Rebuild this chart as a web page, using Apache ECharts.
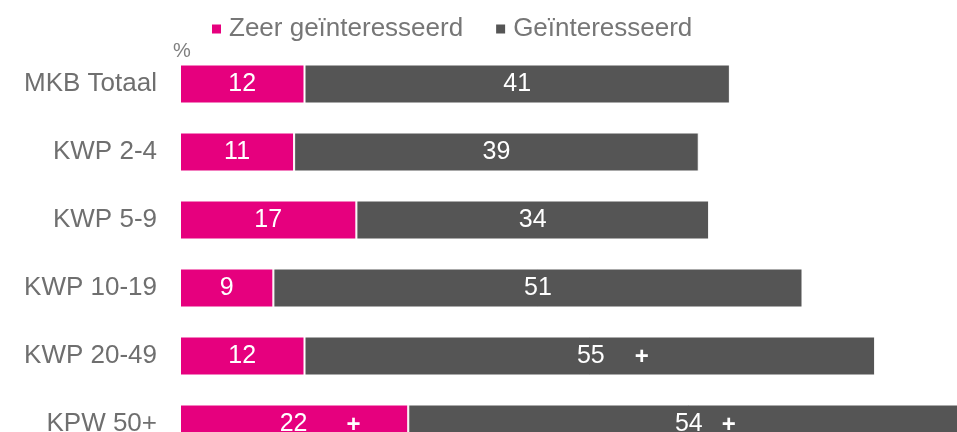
<!DOCTYPE html>
<html><head><meta charset="utf-8">
<script src="https://cdn.jsdelivr.net/npm/echarts@6/dist/echarts.min.js"></script>
<style>html,body{margin:0;padding:0;background:#fff;overflow:hidden;width:957px;height:432px}#c{width:1010px;height:458px}</style>
</head><body><div id="c"></div>
<script>
const categories = ['MKB Totaal','KWP 2-4','KWP 5-9','KWP 10-19','KWP 20-49','KPW 50+'];
const zeerValues = [12, 11, 17, 9, 12, 22];
const gintValues = [41, 39, 34, 51, 55, 54];
const zeerPlus = [false, false, false, false, false, true];
const gintPlus = [false, false, false, false, true, true];
const seriesNames = ['Zeer geïnteresseerd', 'Geïnteresseerd'];

const FONT = 'Liberation Sans, Arial, sans-serif';
const plusOffsets = { zeer: { 5: 26 }, gint: { 4: 23, 5: 17 } };
const plusPad = { zeer: { 5: 39 }, gint: { 4: 30, 5: 19 } };

function makeData(values, plus, kind) {
  return values.map((v, i) => {
    if (!plus[i]) return v;
    const off = plusOffsets[kind][i];
    const pad = plusPad[kind][i];
    return {
      value: v,
      label: {
        formatter: '{v|' + v + '}{p|+}',
        offset: [off, 0],
        rich: {
          v: { color: '#fff', fontSize: 25, fontFamily: FONT },
          p: { color: '#fff', fontSize: 24, fontWeight: 'bold', padding: [2, 0, 0, pad], fontFamily: FONT }
        }
      }
    };
  });
}

const chart = echarts.init(document.getElementById('c'));
chart.setOption({
  animation: false,
  title: { text: '%', left: 173, top: 41, padding: 0, textStyle: { fontSize: 20, fontWeight: 'normal', color: '#7f7f7f', fontFamily: FONT } },
  legend: {
    data: seriesNames, left: 210, top: 16, padding: 0, icon: 'rect', itemWidth: 11, itemHeight: 11, itemGap: 31,
    textStyle: { fontSize: 26, color: '#767676', fontFamily: FONT, padding: [0, 0, 0, 2] }
  },
  grid: { left: 180, top: 50, right: 0, bottom: 0, containLabel: false },
  xAxis: { type: 'value', min: 0, max: 80, show: false },
  yAxis: {
    type: 'category', data: categories, inverse: true,
    axisLine: { show: false }, axisTick: { show: false },
    axisLabel: { fontSize: 26, color: '#6f6f6f', margin: 23, fontFamily: FONT }
  },
  series: [
    {
      name: seriesNames[0], type: 'bar', stack: 't', barWidth: 39,
      data: makeData(zeerValues, zeerPlus, 'zeer'),
      itemStyle: { color: '#E6007E', borderColor: '#ffffff', borderWidth: 1 },
      label: { show: true, position: 'inside', color: '#fff', fontSize: 25, fontFamily: FONT }
    },
    {
      name: seriesNames[1], type: 'bar', stack: 't', barWidth: 39,
      data: makeData(gintValues, gintPlus, 'gint'),
      itemStyle: { color: '#555555', borderColor: '#ffffff', borderWidth: 1 },
      label: { show: true, position: 'inside', color: '#fff', fontSize: 25, fontFamily: FONT }
    }
  ]
});
</script></body></html>
